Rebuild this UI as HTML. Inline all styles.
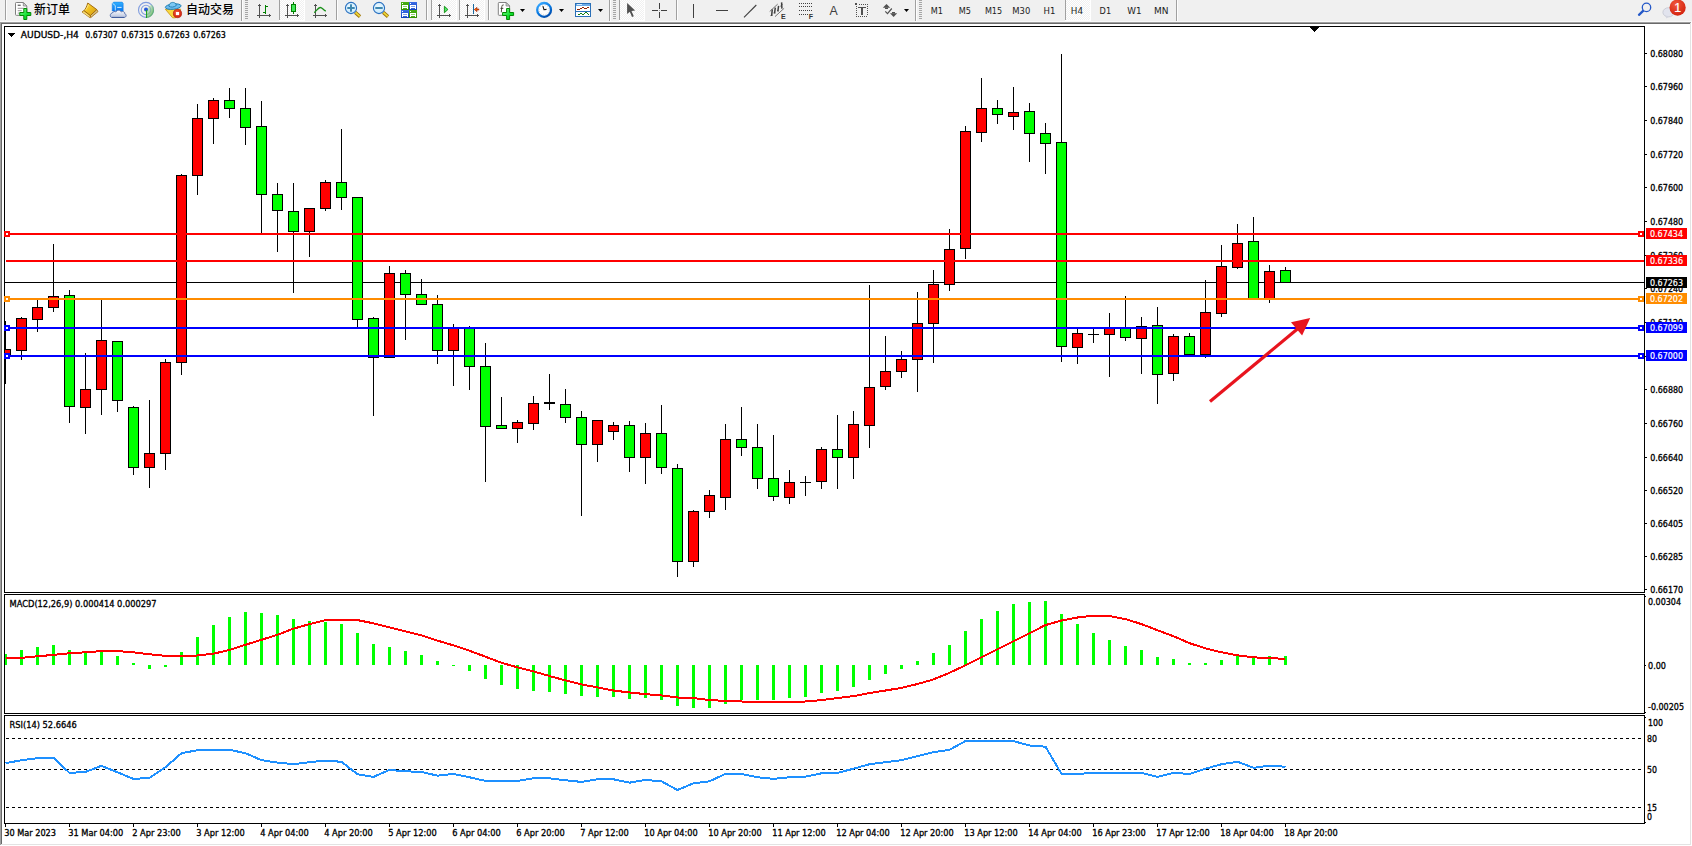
<!DOCTYPE html><html><head><meta charset="utf-8"><title>AUDUSD H4</title>
<style>html,body{margin:0;padding:0;background:#fff;overflow:hidden}body{width:1692px;height:846px;position:relative}svg{position:absolute;left:0;top:0;display:block}text{font-family:"DejaVu Sans Condensed", "Liberation Sans", sans-serif;font-size:9.33px;fill:#000;stroke:#000;stroke-width:0.3px}.cjk{font-family:"Liberation Sans", "Noto Sans CJK SC", sans-serif;font-size:12px;font-weight:500;stroke:none}.tf{font-size:9.33px;fill:#1c1c1c;stroke:none}</style></head><body>
<svg width="1692" height="846" viewBox="0 0 1692 846">
<defs><linearGradient id="tb" x1="0" y1="0" x2="0" y2="1"><stop offset="0" stop-color="#e3e3e3"/><stop offset="0.5" stop-color="#a0a0a0"/><stop offset="1" stop-color="#6a6a6a"/></linearGradient>
<pattern id="hatch" width="2" height="2" patternUnits="userSpaceOnUse"><rect width="2" height="2" fill="#f0f0f0"/><rect width="1" height="1" fill="#fff"/><rect x="1" y="1" width="1" height="1" fill="#fff"/></pattern>
</defs>
<rect width="1692" height="846" fill="#fff"/>
<g id="toolbar">
<rect x="0" y="0" width="1692" height="22" fill="#f0f0f0"/>
<defs>
<linearGradient id="gGold" x1="0" y1="0" x2="1" y2="1"><stop offset="0" stop-color="#ffe050"/><stop offset="0.45" stop-color="#f0c020"/><stop offset="1" stop-color="#d09810"/></linearGradient>
<linearGradient id="gGreen" x1="0" y1="0" x2="1" y2="1"><stop offset="0" stop-color="#80ff90"/><stop offset="0.6" stop-color="#10e030"/><stop offset="1" stop-color="#00b818"/></linearGradient>
<linearGradient id="gBlue" x1="0" y1="0" x2="0" y2="1"><stop offset="0" stop-color="#30b0ff"/><stop offset="1" stop-color="#0878f0"/></linearGradient>
<linearGradient id="gCloud" x1="0" y1="0" x2="0" y2="1"><stop offset="0" stop-color="#ffffff"/><stop offset="1" stop-color="#b4c0dc"/></linearGradient>
<radialGradient id="gRed" cx="0.4" cy="0.3" r="0.8"><stop offset="0" stop-color="#f0583c"/><stop offset="1" stop-color="#d01c08"/></radialGradient>
<radialGradient id="gLens" cx="0.45" cy="0.4" r="0.7"><stop offset="0" stop-color="#eefaff"/><stop offset="1" stop-color="#bfe4fb"/></radialGradient>
<linearGradient id="gHandle" x1="0" y1="1" x2="1" y2="0"><stop offset="0" stop-color="#a87808"/><stop offset="0.5" stop-color="#f4e040"/><stop offset="1" stop-color="#b88810"/></linearGradient>
<linearGradient id="gClock" x1="0.2" y1="0" x2="0.8" y2="1"><stop offset="0" stop-color="#38a8ff"/><stop offset="0.5" stop-color="#0878e0"/><stop offset="1" stop-color="#0048a8"/></linearGradient>
<linearGradient id="gSig" x1="0" y1="0" x2="1" y2="1"><stop offset="0" stop-color="#d0ecd0" stop-opacity="0.3"/><stop offset="1" stop-color="#30a030" stop-opacity="0.95"/></linearGradient>
<linearGradient id="gTileG" x1="0" y1="0" x2="0" y2="1"><stop offset="0" stop-color="#48b010"/><stop offset="1" stop-color="#348c08"/></linearGradient>
<linearGradient id="gTileB" x1="0" y1="0" x2="0" y2="1"><stop offset="0" stop-color="#3a6ce8"/><stop offset="1" stop-color="#1040b8"/></linearGradient>
</defs>
<rect x="5" y="0" width="1" height="20" fill="#a0a0a0" shape-rendering="crispEdges"/><rect x="6" y="0" width="1" height="20" fill="#fdfdfd" shape-rendering="crispEdges"/>
<g transform="translate(15.3,2.0)"><path d="M1,0.5 H8 L11.5,4 V12.5 Q11.5,13.3 10.7,13.3 H1 Q0.2,13.3 0.2,12.5 V1.3 Q0.2,0.5 1,0.5z" fill="#fff" stroke="#808080" stroke-width="1"/><path d="M8,0.5 V4 H11.5z" fill="#d8d8d8" stroke="#808080" stroke-width="0.8"/><rect x="2.4" y="2.6" width="3" height="1.4" fill="#707070"/><rect x="2.4" y="5.8" width="6.6" height="1" fill="#9a9a9a"/><rect x="2.4" y="8.2" width="4" height="1" fill="#9a9a9a"/><rect x="2.4" y="10.6" width="2.4" height="1" fill="#9a9a9a"/><path d="M8.5,6.5 h3 v4 h4 v3 h-4 v4 h-3 v-4 h-4 v-3 h4z" fill="url(#gGreen)" stroke="#008a00" stroke-width="1"/></g>
<text class="cjk" x="34" y="13.8" textLength="36" lengthAdjust="spacingAndGlyphs">新订单</text>
<g stroke-linejoin="round"><path d="M96.8,9.6 L98,11.6 L90.6,17.7 L90.4,15.6z" fill="#ead9a0" stroke="#9a6208" stroke-width="0.8"/><path d="M91.2,16.6 L97.4,10.9 M91.1,17.2 L97.7,11.4" stroke="#b89040" stroke-width="0.35"/><path d="M84,10.5 L82,11.9 L89.8,17.6 L90.4,15.6z" fill="#f4d45c" stroke="#a06a08" stroke-width="0.8"/><path d="M82.9,12 L89.6,16.6" stroke="#fff0a8" stroke-width="0.6"/><path d="M87.8,3 L96.8,9.6 L90.4,15.6 L84,10.5 C85.6,9.2 86.6,6.6 87.8,3z" fill="url(#gGold)" stroke="#9a6208" stroke-width="0.9"/><path d="M85.3,10.3 C86.6,8.8 87.6,6.8 88.5,4.6" stroke="#fff4b0" stroke-width="0.7" fill="none" opacity="0.85"/></g>
<g><path d="M112.2,3.6 L113.6,2.1 H122.2 L123.2,3.6 V11 H112.2z" fill="url(#gBlue)" stroke="#1478e0" stroke-width="0.5"/><path d="M112.6,3.4 L115.3,5.6 V10.6" stroke="#e0f4ff" stroke-width="0.8" fill="none"/><rect x="117.2" y="6.9" width="4.4" height="0.9" fill="#f0faff"/><path d="M112,17.5 C109.5,17.3 109.7,13.3 112.4,12.9 C113,11.4 115,11.1 115.9,12 C116.6,9.7 120.4,9.5 121.2,11.9 C123,10.9 125.2,12 124.8,13.8 C126.8,14.4 126.5,17.3 124.2,17.5z" fill="url(#gCloud)" stroke="#4c68a8" stroke-width="0.9"/><path d="M112,17.4 H124.2" stroke="#3c5898" stroke-width="0.9"/></g>
<g fill="none"><circle cx="146" cy="9.9" r="7.5" stroke="#5a80d8" stroke-width="1.1" opacity="0.75"/><circle cx="146" cy="9.9" r="4.7" stroke="#5a80d8" stroke-width="1.1" opacity="0.7"/><path d="M146,9.9 L146,17.9 A8,8 0 0 0 151.6,4.2z" fill="url(#gSig)"/><circle cx="146" cy="9.6" r="2" fill="#2458d8"/><rect x="146" y="10" width="1.1" height="8" fill="#20a020"/></g>
<g><path d="M165.3,9.2 L180.8,9.2 L175.5,17.8 L172.6,17.8z" fill="#f8d840" stroke="#c89010" stroke-width="0.8"/><ellipse cx="173.2" cy="6.6" rx="7.9" ry="2.7" fill="#6cbcf0" stroke="#1c7cb0" stroke-width="0.9" transform="rotate(-6 173.2 6.6)"/><path d="M168.9,6.2 C168.9,1.4 176.1,1.2 176.3,5.4 C174,7.4 171,7.6 168.9,6.2z" fill="#7cc8f4" stroke="#1c7cb0" stroke-width="0.9"/><circle cx="177.5" cy="13.6" r="4.1" fill="url(#gRed)" stroke="#b01808" stroke-width="0.7"/><rect x="175.9" y="12" width="3.2" height="3.1" fill="#fff"/></g>
<text class="cjk" x="186" y="13.8" textLength="48" lengthAdjust="spacingAndGlyphs">自动交易</text>
<rect x="241" y="0" width="1" height="22" fill="#a0a0a0" shape-rendering="crispEdges"/><rect x="242" y="0" width="1" height="22" fill="#fdfdfd" shape-rendering="crispEdges"/>
<rect x="245" y="0" width="3" height="1" fill="#a6a6a6" shape-rendering="crispEdges"/>
<rect x="245" y="2" width="3" height="1" fill="#a6a6a6" shape-rendering="crispEdges"/>
<rect x="245" y="4" width="3" height="1" fill="#a6a6a6" shape-rendering="crispEdges"/>
<rect x="245" y="6" width="3" height="1" fill="#a6a6a6" shape-rendering="crispEdges"/>
<rect x="245" y="8" width="3" height="1" fill="#a6a6a6" shape-rendering="crispEdges"/>
<rect x="245" y="10" width="3" height="1" fill="#a6a6a6" shape-rendering="crispEdges"/>
<rect x="245" y="12" width="3" height="1" fill="#a6a6a6" shape-rendering="crispEdges"/>
<rect x="245" y="14" width="3" height="1" fill="#a6a6a6" shape-rendering="crispEdges"/>
<rect x="245" y="16" width="3" height="1" fill="#a6a6a6" shape-rendering="crispEdges"/>
<rect x="245" y="18" width="3" height="1" fill="#a6a6a6" shape-rendering="crispEdges"/>
<g fill="#505050" shape-rendering="crispEdges"><rect x="259" y="4" width="1" height="14"/><rect x="257" y="15" width="14" height="1"/><rect x="258" y="5" width="3" height="1"/><rect x="269" y="14" width="1" height="3"/></g>
<g fill="#008000" shape-rendering="crispEdges"><rect x="265" y="5" width="1" height="9"/><rect x="266" y="6" width="2" height="1"/><rect x="263" y="12" width="2" height="1"/></g>
<rect x="280" y="0" width="24" height="20" fill="url(#hatch)" shape-rendering="crispEdges"/>
<rect x="279" y="0" width="1" height="20" fill="#a0a0a0" shape-rendering="crispEdges"/>
<rect x="304" y="0" width="1" height="21" fill="#fff" shape-rendering="crispEdges"/>
<rect x="279" y="20" width="25" height="1" fill="#fff" shape-rendering="crispEdges"/>
<g fill="#505050" shape-rendering="crispEdges"><rect x="287" y="4" width="1" height="14"/><rect x="285" y="15" width="14" height="1"/><rect x="286" y="5" width="3" height="1"/><rect x="297" y="14" width="1" height="3"/></g>
<g shape-rendering="crispEdges"><rect x="293" y="2" width="1" height="12" fill="#008000"/><rect x="291" y="4" width="5" height="8" fill="#008000"/><rect x="292" y="5" width="3" height="6" fill="#40e858"/></g>
<g fill="#505050" shape-rendering="crispEdges"><rect x="315" y="4" width="1" height="14"/><rect x="313" y="15" width="14" height="1"/><rect x="314" y="5" width="3" height="1"/><rect x="325" y="14" width="1" height="3"/></g>
<path d="M314.2,12.6 C316.4,11.2 318,7.6 320.2,7.5 C322.2,7.4 323.4,10.4 325.8,11" fill="none" stroke="#189018" stroke-width="1.3"/>
<rect x="336" y="0" width="1" height="20" fill="#a0a0a0" shape-rendering="crispEdges"/><rect x="337" y="0" width="1" height="20" fill="#fdfdfd" shape-rendering="crispEdges"/>
<g><line x1="355.2" y1="12.4" x2="360.0" y2="16.6" stroke="#9a7008" stroke-width="3.4"/><line x1="355.4" y1="12.4" x2="359.8" y2="16.4" stroke="#f0d838" stroke-width="1.8"/><circle cx="351.0" cy="8" r="5.6" fill="url(#gLens)" stroke="#2a70c0" stroke-width="1.1"/><rect x="347.3" y="7" width="7.4" height="2" fill="#4088b0"/><rect x="350.0" y="4.3" width="2" height="7.4" fill="#4088b0"/></g>
<g><line x1="383.2" y1="12.4" x2="388.0" y2="16.6" stroke="#9a7008" stroke-width="3.4"/><line x1="383.4" y1="12.4" x2="387.8" y2="16.4" stroke="#f0d838" stroke-width="1.8"/><circle cx="379.0" cy="8" r="5.6" fill="url(#gLens)" stroke="#2a70c0" stroke-width="1.1"/><rect x="375.3" y="7" width="7.4" height="2" fill="#4088b0"/></g>
<g shape-rendering="crispEdges"><rect x="401" y="2" width="8" height="8" rx="1" fill="url(#gTileG)"/><rect x="402" y="3" width="1" height="1" fill="#fff"/><rect x="402" y="5" width="6" height="4" fill="#fff"/><rect x="403" y="6" width="4" height="1" fill="#48b010" opacity="0.6"/><rect x="403" y="8" width="4" height="1" fill="#48b010"/><rect x="409" y="2" width="8" height="8" rx="1" fill="url(#gTileB)"/><rect x="410" y="3" width="1" height="1" fill="#fff"/><rect x="410" y="5" width="6" height="4" fill="#fff"/><rect x="411" y="6" width="4" height="1" fill="#3060d8" opacity="0.6"/><rect x="411" y="8" width="4" height="1" fill="#3060d8"/><rect x="401" y="10" width="8" height="8" rx="1" fill="url(#gTileB)"/><rect x="402" y="11" width="1" height="1" fill="#fff"/><rect x="402" y="13" width="6" height="4" fill="#fff"/><rect x="403" y="14" width="4" height="1" fill="#3060d8" opacity="0.6"/><rect x="403" y="16" width="4" height="1" fill="#3060d8"/><rect x="409" y="10" width="8" height="8" rx="1" fill="url(#gTileG)"/><rect x="410" y="11" width="1" height="1" fill="#fff"/><rect x="410" y="13" width="6" height="4" fill="#fff"/><rect x="411" y="14" width="4" height="1" fill="#48b010" opacity="0.6"/><rect x="411" y="16" width="4" height="1" fill="#48b010"/></g>
<rect x="426" y="0" width="1" height="20" fill="#a0a0a0" shape-rendering="crispEdges"/><rect x="427" y="0" width="1" height="20" fill="#fdfdfd" shape-rendering="crispEdges"/>
<rect x="432" y="0" width="24" height="20" fill="url(#hatch)" shape-rendering="crispEdges"/>
<rect x="431" y="0" width="1" height="20" fill="#a0a0a0" shape-rendering="crispEdges"/>
<rect x="456" y="0" width="1" height="21" fill="#fff" shape-rendering="crispEdges"/>
<rect x="431" y="20" width="25" height="1" fill="#fff" shape-rendering="crispEdges"/>
<g fill="#505050" shape-rendering="crispEdges"><rect x="439" y="4" width="1" height="14"/><rect x="437" y="15" width="14" height="1"/><rect x="438" y="5" width="3" height="1"/><rect x="449" y="14" width="1" height="3"/></g>
<polygon points="444.4,6.3 444.4,12.7 447.9,9.5" fill="#50e868" stroke="#0c8c0c" stroke-width="0.9" stroke-linejoin="round"/>
<rect x="460" y="0" width="24" height="20" fill="url(#hatch)" shape-rendering="crispEdges"/>
<rect x="459" y="0" width="1" height="20" fill="#a0a0a0" shape-rendering="crispEdges"/>
<rect x="484" y="0" width="1" height="21" fill="#fff" shape-rendering="crispEdges"/>
<rect x="459" y="20" width="25" height="1" fill="#fff" shape-rendering="crispEdges"/>
<g fill="#505050" shape-rendering="crispEdges"><rect x="467" y="4" width="1" height="14"/><rect x="465" y="15" width="14" height="1"/><rect x="466" y="5" width="3" height="1"/><rect x="477" y="14" width="1" height="3"/></g>
<rect x="473" y="4" width="1" height="10" fill="#1868a0" shape-rendering="crispEdges"/><path d="M474.3,9.5 L477,7.4 L476.6,9 H478.8 V10 H476.6 L477,11.6z" fill="#ff6a00" stroke="#a02000" stroke-width="0.7" stroke-linejoin="round"/>
<rect x="488" y="0" width="1" height="20" fill="#a0a0a0" shape-rendering="crispEdges"/><rect x="489" y="0" width="1" height="20" fill="#fdfdfd" shape-rendering="crispEdges"/>
<g transform="translate(498.1,2.0)"><path d="M1,0.5 H8 L11.5,4 V12.5 Q11.5,13.3 10.7,13.3 H1 Q0.2,13.3 0.2,12.5 V1.3 Q0.2,0.5 1,0.5z" fill="#fff" stroke="#808080" stroke-width="1"/><path d="M8,0.5 V4 H11.5z" fill="#d8d8d8" stroke="#808080" stroke-width="0.8"/><path d="M5.6,2.9 Q3.8,2.6 3.7,4.6 L3.2,10.3 M2.4,6.4 H5.2" stroke="#3a3a2a" stroke-width="0.9" fill="none"/><path d="M8.5,6.5 h3 v4 h4 v3 h-4 v4 h-3 v-4 h-4 v-3 h4z" fill="url(#gGreen)" stroke="#008a00" stroke-width="1"/></g>
<polygon points="520,9 525,9 522.5,12" fill="#000"/>
<g><circle cx="544.1" cy="9.9" r="6.9" fill="#fdfdfd" stroke="url(#gClock)" stroke-width="2.3"/><circle cx="544.1" cy="9.9" r="4.9" fill="none" stroke="#b0b0b0" stroke-width="0.8" stroke-dasharray="0.7 1.87"/><path d="M542.9,6.2 L544,9.7 L546.5,9.4" stroke="#111" stroke-width="1.1" fill="none"/></g>
<polygon points="559,9 564,9 561.5,12" fill="#000"/>
<g shape-rendering="crispEdges"><rect x="575" y="3" width="16" height="14" fill="#2a70b8"/><rect x="576" y="4" width="14" height="2" fill="#6cace8"/><rect x="577" y="4" width="5" height="1" fill="#d8ecff"/><rect x="576" y="6" width="14" height="5" fill="#fff"/><rect x="576" y="12" width="14" height="4" fill="#fff"/>
<rect x="577" y="9" width="3" height="1" fill="#902000"/>
<rect x="580" y="8" width="2" height="1" fill="#902000"/>
<rect x="582" y="7" width="2" height="1" fill="#902000"/>
<rect x="584" y="8" width="3" height="1" fill="#902000"/>
<rect x="587" y="7" width="2" height="1" fill="#902000"/>
<rect x="578" y="14" width="2" height="1" fill="#108010"/>
<rect x="580" y="13" width="2" height="1" fill="#108010"/>
<rect x="582" y="14" width="2" height="1" fill="#108010"/>
<rect x="584" y="13" width="1" height="1" fill="#108010"/>
<rect x="585" y="12" width="2" height="1" fill="#108010"/>
<rect x="587" y="13" width="1" height="1" fill="#108010"/>
<rect x="588" y="14" width="1" height="1" fill="#108010"/>
</g>
<polygon points="598,9 603,9 600.5,12" fill="#000"/>
<rect x="609" y="0" width="1" height="22" fill="#a0a0a0" shape-rendering="crispEdges"/><rect x="610" y="0" width="1" height="22" fill="#fdfdfd" shape-rendering="crispEdges"/>
<rect x="613" y="0" width="3" height="1" fill="#a6a6a6" shape-rendering="crispEdges"/>
<rect x="613" y="2" width="3" height="1" fill="#a6a6a6" shape-rendering="crispEdges"/>
<rect x="613" y="4" width="3" height="1" fill="#a6a6a6" shape-rendering="crispEdges"/>
<rect x="613" y="6" width="3" height="1" fill="#a6a6a6" shape-rendering="crispEdges"/>
<rect x="613" y="8" width="3" height="1" fill="#a6a6a6" shape-rendering="crispEdges"/>
<rect x="613" y="10" width="3" height="1" fill="#a6a6a6" shape-rendering="crispEdges"/>
<rect x="613" y="12" width="3" height="1" fill="#a6a6a6" shape-rendering="crispEdges"/>
<rect x="613" y="14" width="3" height="1" fill="#a6a6a6" shape-rendering="crispEdges"/>
<rect x="613" y="16" width="3" height="1" fill="#a6a6a6" shape-rendering="crispEdges"/>
<rect x="613" y="18" width="3" height="1" fill="#a6a6a6" shape-rendering="crispEdges"/>
<rect x="620" y="0" width="24" height="20" fill="url(#hatch)" shape-rendering="crispEdges"/>
<rect x="619" y="0" width="1" height="20" fill="#a0a0a0" shape-rendering="crispEdges"/>
<rect x="644" y="0" width="1" height="21" fill="#fff" shape-rendering="crispEdges"/>
<rect x="619" y="20" width="25" height="1" fill="#fff" shape-rendering="crispEdges"/>
<polygon points="627.1,2.9 627.1,14 629.8,11.8 632,16.9 633.8,16.2 631.5,11 635.1,10.5" fill="#505050"/>
<g fill="#404040" shape-rendering="crispEdges"><rect x="659" y="3" width="1" height="6"/><rect x="659" y="12" width="1" height="6"/><rect x="652" y="10" width="6" height="1"/><rect x="661" y="10" width="6" height="1"/><rect x="659" y="10" width="1" height="1" opacity="0.4"/></g>
<rect x="676" y="0" width="1" height="20" fill="#a0a0a0" shape-rendering="crispEdges"/><rect x="677" y="0" width="1" height="20" fill="#fdfdfd" shape-rendering="crispEdges"/>
<g fill="#404040" shape-rendering="crispEdges"><rect x="693" y="4" width="1" height="14"/><rect x="716" y="10" width="12" height="1"/></g>
<line x1="744" y1="17.3" x2="756.3" y2="5" stroke="#404040" stroke-width="1.1"/>
<g stroke="#404040" fill="none"><path d="M769.7,11.5 L777.7,4.1 M775,16.6 L784.1,8.3" stroke-width="0.7"/><path d="M772.3,9.4 L771.6,15.8 M775.3,7.6 L774.6,13 M778.6,5.8 L777.9,11 M781.6,2.4 L781.9,8.6" stroke-width="1.5"/><path d="M770.6,15.6 l1.8,-0.4 M773.6,13 l1.8,0.2 M777,10.8 l1.8,0.3 M780.4,6.2 l2,-1.6" stroke-width="1"/></g>
<text x="781" y="19" style="font-family:'Liberation Sans',sans-serif;font-size:7px;font-weight:bold;fill:#333;stroke:none">E</text>
<g fill="#404040" shape-rendering="crispEdges">
<rect x="799" y="3" width="1" height="1"/>
<rect x="801" y="3" width="1" height="1"/>
<rect x="803" y="3" width="1" height="1"/>
<rect x="805" y="3" width="1" height="1"/>
<rect x="807" y="3" width="1" height="1"/>
<rect x="809" y="3" width="1" height="1"/>
<rect x="811" y="3" width="1" height="1"/>
<rect x="799" y="6" width="1" height="1"/>
<rect x="801" y="6" width="1" height="1"/>
<rect x="803" y="6" width="1" height="1"/>
<rect x="805" y="6" width="1" height="1"/>
<rect x="807" y="6" width="1" height="1"/>
<rect x="809" y="6" width="1" height="1"/>
<rect x="811" y="6" width="1" height="1"/>
<rect x="799" y="10" width="1" height="1"/>
<rect x="801" y="10" width="1" height="1"/>
<rect x="803" y="10" width="1" height="1"/>
<rect x="805" y="10" width="1" height="1"/>
<rect x="807" y="10" width="1" height="1"/>
<rect x="809" y="10" width="1" height="1"/>
<rect x="811" y="10" width="1" height="1"/>
<rect x="799" y="14" width="1" height="1"/>
<rect x="801" y="14" width="1" height="1"/>
<rect x="803" y="14" width="1" height="1"/>
<rect x="805" y="14" width="1" height="1"/>
<rect x="807" y="14" width="1" height="1"/>
</g>
<text x="808.8" y="19" style="font-family:'Liberation Sans',sans-serif;font-size:7px;font-weight:bold;fill:#333;stroke:none">F</text>
<text x="829.4" y="15" style="font-family:'Liberation Sans',sans-serif;font-size:12.6px;fill:#404040;stroke:none" textLength="8.2" lengthAdjust="spacingAndGlyphs">A</text>
<g fill="#505050" shape-rendering="crispEdges"><rect x="855" y="3" width="2" height="2"/>
<rect x="859" y="4" width="1" height="1"/>
<rect x="861" y="4" width="1" height="1"/>
<rect x="863" y="4" width="1" height="1"/>
<rect x="865" y="4" width="1" height="1"/>
<rect x="867" y="4" width="1" height="1"/>
<rect x="856" y="6" width="1" height="1"/>
<rect x="856" y="8" width="1" height="1"/>
<rect x="856" y="10" width="1" height="1"/>
<rect x="856" y="12" width="1" height="1"/>
<rect x="856" y="14" width="1" height="1"/>
<rect x="856" y="16" width="1" height="1"/>
<rect x="867" y="6" width="1" height="1"/>
<rect x="867" y="8" width="1" height="1"/>
<rect x="867" y="10" width="1" height="1"/>
<rect x="867" y="12" width="1" height="1"/>
<rect x="867" y="14" width="1" height="1"/>
<rect x="858" y="16" width="1" height="1"/>
<rect x="860" y="16" width="1" height="1"/>
<rect x="862" y="16" width="1" height="1"/>
<rect x="864" y="16" width="1" height="1"/>
<rect x="866" y="16" width="1" height="1"/>
<rect x="858" y="7" width="8" height="1"/><rect x="861" y="7" width="2" height="8"/></g>
<g fill="#505050"><polygon points="886.5,4 890.2,7.8 882.8,7.8"/><rect x="885" y="7.6" width="3" height="1.4"/><polygon points="893.6,16.9 897.2,13.2 890,13.2"/><rect x="892" y="12" width="3" height="1.4"/><path d="M885.3,11.3 L887.5,13.6 L891.8,8.5" stroke="#505050" stroke-width="1.2" fill="none"/></g>
<polygon points="904,9 909,9 906.5,12" fill="#000"/>
<rect x="915" y="0" width="1" height="22" fill="#a0a0a0" shape-rendering="crispEdges"/><rect x="916" y="0" width="1" height="22" fill="#fdfdfd" shape-rendering="crispEdges"/>
<rect x="919" y="0" width="3" height="1" fill="#a6a6a6" shape-rendering="crispEdges"/>
<rect x="919" y="2" width="3" height="1" fill="#a6a6a6" shape-rendering="crispEdges"/>
<rect x="919" y="4" width="3" height="1" fill="#a6a6a6" shape-rendering="crispEdges"/>
<rect x="919" y="6" width="3" height="1" fill="#a6a6a6" shape-rendering="crispEdges"/>
<rect x="919" y="8" width="3" height="1" fill="#a6a6a6" shape-rendering="crispEdges"/>
<rect x="919" y="10" width="3" height="1" fill="#a6a6a6" shape-rendering="crispEdges"/>
<rect x="919" y="12" width="3" height="1" fill="#a6a6a6" shape-rendering="crispEdges"/>
<rect x="919" y="14" width="3" height="1" fill="#a6a6a6" shape-rendering="crispEdges"/>
<rect x="919" y="16" width="3" height="1" fill="#a6a6a6" shape-rendering="crispEdges"/>
<rect x="919" y="18" width="3" height="1" fill="#a6a6a6" shape-rendering="crispEdges"/>
<text class="tf" x="930.8" y="14" textLength="12.2" lengthAdjust="spacingAndGlyphs">M1</text>
<text class="tf" x="958.8" y="14" textLength="12.2" lengthAdjust="spacingAndGlyphs">M5</text>
<text class="tf" x="984.9" y="14" textLength="17.2" lengthAdjust="spacingAndGlyphs">M15</text>
<text class="tf" x="1012.3" y="14" textLength="18.0" lengthAdjust="spacingAndGlyphs">M30</text>
<text class="tf" x="1043.5" y="14" textLength="11.8" lengthAdjust="spacingAndGlyphs">H1</text>
<rect x="1066" y="0" width="24" height="20" fill="url(#hatch)" shape-rendering="crispEdges"/>
<rect x="1065" y="0" width="1" height="20" fill="#a0a0a0" shape-rendering="crispEdges"/>
<rect x="1090" y="0" width="1" height="21" fill="#fff" shape-rendering="crispEdges"/>
<rect x="1065" y="20" width="25" height="1" fill="#fff" shape-rendering="crispEdges"/>
<text class="tf" x="1070.8" y="14" textLength="12.2" lengthAdjust="spacingAndGlyphs">H4</text>
<text class="tf" x="1099.6" y="14" textLength="11.5" lengthAdjust="spacingAndGlyphs">D1</text>
<text class="tf" x="1127.2" y="14" textLength="14.3" lengthAdjust="spacingAndGlyphs">W1</text>
<text class="tf" x="1153.9" y="14" textLength="14.5" lengthAdjust="spacingAndGlyphs">MN</text>
<rect x="1176" y="0" width="1" height="22" fill="#a0a0a0" shape-rendering="crispEdges"/><rect x="1177" y="0" width="1" height="22" fill="#fdfdfd" shape-rendering="crispEdges"/>
<g><line x1="1643.6" y1="10.4" x2="1639" y2="14.8" stroke="#2458c8" stroke-width="2.3" stroke-linecap="round"/><circle cx="1646.5" cy="7.4" r="4.2" fill="#f0f0f0" stroke="#2458c8" stroke-width="1.3"/></g>
<g><ellipse cx="1668.5" cy="12.3" rx="5.6" ry="4.6" fill="#e2e4ee" stroke="#c4c6d0" stroke-width="0.8"/><polygon points="1665.4,15.6 1666.4,18.6 1669.6,16.2" fill="#d4d6e0"/><circle cx="1677.6" cy="7.6" r="8.1" fill="url(#gRed)"/><text x="1674.2" y="12" style="font-family:'Liberation Sans',sans-serif;font-size:12.4px;fill:#fff;stroke:#fff;stroke-width:0.2px">1</text></g>
</g>
<g shape-rendering="crispEdges">
<rect x="0" y="21" width="1692" height="1" fill="#f9f9f9"/>
<rect x="0" y="22" width="1691" height="1" fill="#a0a0a0"/>
<rect x="1" y="23" width="1690" height="1" fill="#696969"/>
<rect x="0" y="22" width="1" height="823" fill="#a0a0a0"/><rect x="1" y="23" width="1" height="821" fill="#696969"/>
<rect x="1690" y="23" width="1" height="822" fill="#e3e3e3"/>
<rect x="1" y="844" width="1690" height="1" fill="#e3e3e3"/>
<rect x="1691" y="22" width="1" height="824" fill="#fff"/>
</g>
<g id="main" shape-rendering="crispEdges">
<rect x="5" y="282" width="1640" height="1" fill="#000"/>
<rect x="5" y="321" width="1" height="63" fill="#000"/>
<rect x="4" y="349" width="7" height="8" fill="#000"/>
<rect x="5" y="350" width="5" height="6" fill="#f00"/>
<rect x="21" y="317" width="1" height="43" fill="#000"/>
<rect x="16" y="318" width="11" height="33" fill="#000"/>
<rect x="17" y="319" width="9" height="31" fill="#f00"/>
<rect x="37" y="300" width="1" height="32" fill="#000"/>
<rect x="32" y="307" width="11" height="13" fill="#000"/>
<rect x="33" y="308" width="9" height="11" fill="#f00"/>
<rect x="53" y="244" width="1" height="68" fill="#000"/>
<rect x="48" y="296" width="11" height="12" fill="#000"/>
<rect x="49" y="297" width="9" height="10" fill="#f00"/>
<rect x="69" y="290" width="1" height="133" fill="#000"/>
<rect x="64" y="295" width="11" height="112" fill="#000"/>
<rect x="65" y="296" width="9" height="110" fill="#0f0"/>
<rect x="85" y="353" width="1" height="81" fill="#000"/>
<rect x="80" y="389" width="11" height="19" fill="#000"/>
<rect x="81" y="390" width="9" height="17" fill="#f00"/>
<rect x="101" y="300" width="1" height="115" fill="#000"/>
<rect x="96" y="340" width="11" height="50" fill="#000"/>
<rect x="97" y="341" width="9" height="48" fill="#f00"/>
<rect x="117" y="341" width="1" height="71" fill="#000"/>
<rect x="112" y="341" width="11" height="60" fill="#000"/>
<rect x="113" y="342" width="9" height="58" fill="#0f0"/>
<rect x="133" y="406" width="1" height="69" fill="#000"/>
<rect x="128" y="407" width="11" height="61" fill="#000"/>
<rect x="129" y="408" width="9" height="59" fill="#0f0"/>
<rect x="149" y="400" width="1" height="88" fill="#000"/>
<rect x="144" y="453" width="11" height="15" fill="#000"/>
<rect x="145" y="454" width="9" height="13" fill="#f00"/>
<rect x="165" y="359" width="1" height="111" fill="#000"/>
<rect x="160" y="362" width="11" height="92" fill="#000"/>
<rect x="161" y="363" width="9" height="90" fill="#f00"/>
<rect x="181" y="174" width="1" height="201" fill="#000"/>
<rect x="176" y="175" width="11" height="188" fill="#000"/>
<rect x="177" y="176" width="9" height="186" fill="#f00"/>
<rect x="197" y="104" width="1" height="91" fill="#000"/>
<rect x="192" y="118" width="11" height="58" fill="#000"/>
<rect x="193" y="119" width="9" height="56" fill="#f00"/>
<rect x="213" y="98" width="1" height="46" fill="#000"/>
<rect x="208" y="100" width="11" height="19" fill="#000"/>
<rect x="209" y="101" width="9" height="17" fill="#f00"/>
<rect x="229" y="88" width="1" height="30" fill="#000"/>
<rect x="224" y="100" width="11" height="9" fill="#000"/>
<rect x="225" y="101" width="9" height="7" fill="#0f0"/>
<rect x="245" y="88" width="1" height="57" fill="#000"/>
<rect x="240" y="108" width="11" height="20" fill="#000"/>
<rect x="241" y="109" width="9" height="18" fill="#0f0"/>
<rect x="261" y="101" width="1" height="132" fill="#000"/>
<rect x="256" y="126" width="11" height="69" fill="#000"/>
<rect x="257" y="127" width="9" height="67" fill="#0f0"/>
<rect x="277" y="183" width="1" height="69" fill="#000"/>
<rect x="272" y="194" width="11" height="17" fill="#000"/>
<rect x="273" y="195" width="9" height="15" fill="#0f0"/>
<rect x="293" y="183" width="1" height="110" fill="#000"/>
<rect x="288" y="211" width="11" height="21" fill="#000"/>
<rect x="289" y="212" width="9" height="19" fill="#0f0"/>
<rect x="309" y="208" width="1" height="49" fill="#000"/>
<rect x="304" y="208" width="11" height="24" fill="#000"/>
<rect x="305" y="209" width="9" height="22" fill="#f00"/>
<rect x="325" y="180" width="1" height="31" fill="#000"/>
<rect x="320" y="182" width="11" height="27" fill="#000"/>
<rect x="321" y="183" width="9" height="25" fill="#f00"/>
<rect x="341" y="129" width="1" height="81" fill="#000"/>
<rect x="336" y="182" width="11" height="16" fill="#000"/>
<rect x="337" y="183" width="9" height="14" fill="#0f0"/>
<rect x="357" y="197" width="1" height="130" fill="#000"/>
<rect x="352" y="197" width="11" height="123" fill="#000"/>
<rect x="353" y="198" width="9" height="121" fill="#0f0"/>
<rect x="373" y="317" width="1" height="99" fill="#000"/>
<rect x="368" y="318" width="11" height="40" fill="#000"/>
<rect x="369" y="319" width="9" height="38" fill="#0f0"/>
<rect x="389" y="266" width="1" height="92" fill="#000"/>
<rect x="384" y="273" width="11" height="85" fill="#000"/>
<rect x="385" y="274" width="9" height="83" fill="#f00"/>
<rect x="405" y="270" width="1" height="70" fill="#000"/>
<rect x="400" y="273" width="11" height="22" fill="#000"/>
<rect x="401" y="274" width="9" height="20" fill="#0f0"/>
<rect x="421" y="279" width="1" height="26" fill="#000"/>
<rect x="416" y="294" width="11" height="11" fill="#000"/>
<rect x="417" y="295" width="9" height="9" fill="#0f0"/>
<rect x="437" y="295" width="1" height="69" fill="#000"/>
<rect x="432" y="304" width="11" height="47" fill="#000"/>
<rect x="433" y="305" width="9" height="45" fill="#0f0"/>
<rect x="453" y="324" width="1" height="62" fill="#000"/>
<rect x="448" y="328" width="11" height="23" fill="#000"/>
<rect x="449" y="329" width="9" height="21" fill="#f00"/>
<rect x="469" y="326" width="1" height="64" fill="#000"/>
<rect x="464" y="328" width="11" height="39" fill="#000"/>
<rect x="465" y="329" width="9" height="37" fill="#0f0"/>
<rect x="485" y="343" width="1" height="139" fill="#000"/>
<rect x="480" y="366" width="11" height="61" fill="#000"/>
<rect x="481" y="367" width="9" height="59" fill="#0f0"/>
<rect x="501" y="397" width="1" height="32" fill="#000"/>
<rect x="496" y="425" width="11" height="4" fill="#000"/>
<rect x="497" y="426" width="9" height="2" fill="#0f0"/>
<rect x="517" y="420" width="1" height="23" fill="#000"/>
<rect x="512" y="422" width="11" height="7" fill="#000"/>
<rect x="513" y="423" width="9" height="5" fill="#f00"/>
<rect x="533" y="396" width="1" height="34" fill="#000"/>
<rect x="528" y="403" width="11" height="21" fill="#000"/>
<rect x="529" y="404" width="9" height="19" fill="#f00"/>
<rect x="549" y="374" width="1" height="36" fill="#000"/>
<rect x="544" y="402" width="11" height="2" fill="#000"/>
<rect x="565" y="389" width="1" height="34" fill="#000"/>
<rect x="560" y="404" width="11" height="14" fill="#000"/>
<rect x="561" y="405" width="9" height="12" fill="#0f0"/>
<rect x="581" y="411" width="1" height="105" fill="#000"/>
<rect x="576" y="417" width="11" height="28" fill="#000"/>
<rect x="577" y="418" width="9" height="26" fill="#0f0"/>
<rect x="597" y="420" width="1" height="42" fill="#000"/>
<rect x="592" y="420" width="11" height="25" fill="#000"/>
<rect x="593" y="421" width="9" height="23" fill="#f00"/>
<rect x="613" y="422" width="1" height="18" fill="#000"/>
<rect x="608" y="425" width="11" height="7" fill="#000"/>
<rect x="609" y="426" width="9" height="5" fill="#f00"/>
<rect x="629" y="421" width="1" height="51" fill="#000"/>
<rect x="624" y="425" width="11" height="33" fill="#000"/>
<rect x="625" y="426" width="9" height="31" fill="#0f0"/>
<rect x="645" y="423" width="1" height="61" fill="#000"/>
<rect x="640" y="433" width="11" height="25" fill="#000"/>
<rect x="641" y="434" width="9" height="23" fill="#f00"/>
<rect x="661" y="405" width="1" height="69" fill="#000"/>
<rect x="656" y="433" width="11" height="35" fill="#000"/>
<rect x="657" y="434" width="9" height="33" fill="#0f0"/>
<rect x="677" y="464" width="1" height="113" fill="#000"/>
<rect x="672" y="468" width="11" height="94" fill="#000"/>
<rect x="673" y="469" width="9" height="92" fill="#0f0"/>
<rect x="693" y="510" width="1" height="57" fill="#000"/>
<rect x="688" y="511" width="11" height="51" fill="#000"/>
<rect x="689" y="512" width="9" height="49" fill="#f00"/>
<rect x="709" y="490" width="1" height="28" fill="#000"/>
<rect x="704" y="495" width="11" height="17" fill="#000"/>
<rect x="705" y="496" width="9" height="15" fill="#f00"/>
<rect x="725" y="424" width="1" height="86" fill="#000"/>
<rect x="720" y="439" width="11" height="59" fill="#000"/>
<rect x="721" y="440" width="9" height="57" fill="#f00"/>
<rect x="741" y="407" width="1" height="49" fill="#000"/>
<rect x="736" y="439" width="11" height="9" fill="#000"/>
<rect x="737" y="440" width="9" height="7" fill="#0f0"/>
<rect x="757" y="424" width="1" height="65" fill="#000"/>
<rect x="752" y="447" width="11" height="32" fill="#000"/>
<rect x="753" y="448" width="9" height="30" fill="#0f0"/>
<rect x="773" y="435" width="1" height="66" fill="#000"/>
<rect x="768" y="478" width="11" height="19" fill="#000"/>
<rect x="769" y="479" width="9" height="17" fill="#0f0"/>
<rect x="789" y="470" width="1" height="34" fill="#000"/>
<rect x="784" y="482" width="11" height="16" fill="#000"/>
<rect x="785" y="483" width="9" height="14" fill="#f00"/>
<rect x="805" y="476" width="1" height="20" fill="#000"/>
<rect x="800" y="482" width="11" height="1" fill="#000"/>
<rect x="821" y="447" width="1" height="42" fill="#000"/>
<rect x="816" y="449" width="11" height="33" fill="#000"/>
<rect x="817" y="450" width="9" height="31" fill="#f00"/>
<rect x="837" y="415" width="1" height="74" fill="#000"/>
<rect x="832" y="449" width="11" height="9" fill="#000"/>
<rect x="833" y="450" width="9" height="7" fill="#0f0"/>
<rect x="853" y="411" width="1" height="68" fill="#000"/>
<rect x="848" y="424" width="11" height="34" fill="#000"/>
<rect x="849" y="425" width="9" height="32" fill="#f00"/>
<rect x="869" y="285" width="1" height="163" fill="#000"/>
<rect x="864" y="387" width="11" height="39" fill="#000"/>
<rect x="865" y="388" width="9" height="37" fill="#f00"/>
<rect x="885" y="336" width="1" height="54" fill="#000"/>
<rect x="880" y="371" width="11" height="16" fill="#000"/>
<rect x="881" y="372" width="9" height="14" fill="#f00"/>
<rect x="901" y="351" width="1" height="27" fill="#000"/>
<rect x="896" y="359" width="11" height="13" fill="#000"/>
<rect x="897" y="360" width="9" height="11" fill="#f00"/>
<rect x="917" y="292" width="1" height="100" fill="#000"/>
<rect x="912" y="323" width="11" height="37" fill="#000"/>
<rect x="913" y="324" width="9" height="35" fill="#f00"/>
<rect x="933" y="270" width="1" height="93" fill="#000"/>
<rect x="928" y="284" width="11" height="40" fill="#000"/>
<rect x="929" y="285" width="9" height="38" fill="#f00"/>
<rect x="949" y="229" width="1" height="62" fill="#000"/>
<rect x="944" y="249" width="11" height="36" fill="#000"/>
<rect x="945" y="250" width="9" height="34" fill="#f00"/>
<rect x="965" y="126" width="1" height="133" fill="#000"/>
<rect x="960" y="131" width="11" height="118" fill="#000"/>
<rect x="961" y="132" width="9" height="116" fill="#f00"/>
<rect x="981" y="78" width="1" height="64" fill="#000"/>
<rect x="976" y="108" width="11" height="25" fill="#000"/>
<rect x="977" y="109" width="9" height="23" fill="#f00"/>
<rect x="997" y="100" width="1" height="24" fill="#000"/>
<rect x="992" y="108" width="11" height="7" fill="#000"/>
<rect x="993" y="109" width="9" height="5" fill="#0f0"/>
<rect x="1013" y="87" width="1" height="43" fill="#000"/>
<rect x="1008" y="112" width="11" height="5" fill="#000"/>
<rect x="1009" y="113" width="9" height="3" fill="#f00"/>
<rect x="1029" y="103" width="1" height="59" fill="#000"/>
<rect x="1024" y="111" width="11" height="23" fill="#000"/>
<rect x="1025" y="112" width="9" height="21" fill="#0f0"/>
<rect x="1045" y="123" width="1" height="51" fill="#000"/>
<rect x="1040" y="133" width="11" height="11" fill="#000"/>
<rect x="1041" y="134" width="9" height="9" fill="#0f0"/>
<rect x="1061" y="54" width="1" height="308" fill="#000"/>
<rect x="1056" y="142" width="11" height="205" fill="#000"/>
<rect x="1057" y="143" width="9" height="203" fill="#0f0"/>
<rect x="1077" y="329" width="1" height="35" fill="#000"/>
<rect x="1072" y="333" width="11" height="15" fill="#000"/>
<rect x="1073" y="334" width="9" height="13" fill="#f00"/>
<rect x="1093" y="329" width="1" height="14" fill="#000"/>
<rect x="1088" y="334" width="11" height="1" fill="#000"/>
<rect x="1109" y="313" width="1" height="64" fill="#000"/>
<rect x="1104" y="327" width="11" height="8" fill="#000"/>
<rect x="1105" y="328" width="9" height="6" fill="#f00"/>
<rect x="1125" y="296" width="1" height="45" fill="#000"/>
<rect x="1120" y="327" width="11" height="11" fill="#000"/>
<rect x="1121" y="328" width="9" height="9" fill="#0f0"/>
<rect x="1141" y="317" width="1" height="57" fill="#000"/>
<rect x="1136" y="326" width="11" height="13" fill="#000"/>
<rect x="1137" y="327" width="9" height="11" fill="#f00"/>
<rect x="1157" y="307" width="1" height="97" fill="#000"/>
<rect x="1152" y="325" width="11" height="50" fill="#000"/>
<rect x="1153" y="326" width="9" height="48" fill="#0f0"/>
<rect x="1173" y="334" width="1" height="47" fill="#000"/>
<rect x="1168" y="336" width="11" height="38" fill="#000"/>
<rect x="1169" y="337" width="9" height="36" fill="#f00"/>
<rect x="1189" y="333" width="1" height="22" fill="#000"/>
<rect x="1184" y="336" width="11" height="19" fill="#000"/>
<rect x="1185" y="337" width="9" height="17" fill="#0f0"/>
<rect x="1205" y="280" width="1" height="78" fill="#000"/>
<rect x="1200" y="312" width="11" height="43" fill="#000"/>
<rect x="1201" y="313" width="9" height="41" fill="#f00"/>
<rect x="1221" y="245" width="1" height="72" fill="#000"/>
<rect x="1216" y="266" width="11" height="48" fill="#000"/>
<rect x="1217" y="267" width="9" height="46" fill="#f00"/>
<rect x="1237" y="224" width="1" height="45" fill="#000"/>
<rect x="1232" y="243" width="11" height="25" fill="#000"/>
<rect x="1233" y="244" width="9" height="23" fill="#f00"/>
<rect x="1253" y="217" width="1" height="82" fill="#000"/>
<rect x="1248" y="241" width="11" height="58" fill="#000"/>
<rect x="1249" y="242" width="9" height="56" fill="#0f0"/>
<rect x="1269" y="265" width="1" height="38" fill="#000"/>
<rect x="1264" y="271" width="11" height="28" fill="#000"/>
<rect x="1265" y="272" width="9" height="26" fill="#f00"/>
<rect x="1285" y="267" width="1" height="16" fill="#000"/>
<rect x="1280" y="270" width="11" height="13" fill="#000"/>
<rect x="1281" y="271" width="9" height="11" fill="#0f0"/>
<rect x="5" y="233" width="1640" height="2" fill="#f00"/>
<rect x="6" y="260" width="1639" height="2" fill="#f00"/>
<rect x="5" y="298" width="1640" height="2" fill="#ff8c00"/>
<rect x="5" y="327" width="1640" height="2" fill="#00f"/>
<rect x="5" y="355" width="1640" height="2" fill="#00f"/>
</g>
<g id="arrow"><line x1="1210" y1="401.5" x2="1298" y2="328.5" stroke="#e8141e" stroke-width="3.2"/><polygon points="1310.2,318 1291,322.3 1302.1,335.6" fill="#e8141e"/></g>
<g id="macd" shape-rendering="crispEdges">
<rect x="5" y="654" width="2" height="11" fill="#0f0"/>
<rect x="20" y="650" width="3" height="15" fill="#0f0"/>
<rect x="36" y="647" width="3" height="18" fill="#0f0"/>
<rect x="52" y="645" width="3" height="20" fill="#0f0"/>
<rect x="68" y="650" width="3" height="15" fill="#0f0"/>
<rect x="84" y="652" width="3" height="13" fill="#0f0"/>
<rect x="100" y="652" width="3" height="13" fill="#0f0"/>
<rect x="116" y="656" width="3" height="9" fill="#0f0"/>
<rect x="132" y="663" width="3" height="2" fill="#0f0"/>
<rect x="148" y="665" width="3" height="4" fill="#0f0"/>
<rect x="164" y="665" width="3" height="2" fill="#0f0"/>
<rect x="180" y="652" width="3" height="13" fill="#0f0"/>
<rect x="196" y="637" width="3" height="28" fill="#0f0"/>
<rect x="212" y="625" width="3" height="40" fill="#0f0"/>
<rect x="228" y="617" width="3" height="48" fill="#0f0"/>
<rect x="244" y="612" width="3" height="53" fill="#0f0"/>
<rect x="260" y="613" width="3" height="52" fill="#0f0"/>
<rect x="276" y="615" width="3" height="50" fill="#0f0"/>
<rect x="292" y="619" width="3" height="46" fill="#0f0"/>
<rect x="308" y="621" width="3" height="44" fill="#0f0"/>
<rect x="324" y="622" width="3" height="43" fill="#0f0"/>
<rect x="340" y="624" width="3" height="41" fill="#0f0"/>
<rect x="356" y="633" width="3" height="32" fill="#0f0"/>
<rect x="372" y="644" width="3" height="21" fill="#0f0"/>
<rect x="388" y="647" width="3" height="18" fill="#0f0"/>
<rect x="404" y="651" width="3" height="14" fill="#0f0"/>
<rect x="420" y="655" width="3" height="10" fill="#0f0"/>
<rect x="436" y="661" width="3" height="4" fill="#0f0"/>
<rect x="452" y="665" width="3" height="1" fill="#0f0"/>
<rect x="468" y="665" width="3" height="6" fill="#0f0"/>
<rect x="484" y="665" width="3" height="14" fill="#0f0"/>
<rect x="500" y="665" width="3" height="20" fill="#0f0"/>
<rect x="516" y="665" width="3" height="24" fill="#0f0"/>
<rect x="532" y="665" width="3" height="26" fill="#0f0"/>
<rect x="548" y="665" width="3" height="27" fill="#0f0"/>
<rect x="564" y="665" width="3" height="29" fill="#0f0"/>
<rect x="580" y="665" width="3" height="31" fill="#0f0"/>
<rect x="596" y="665" width="3" height="32" fill="#0f0"/>
<rect x="612" y="665" width="3" height="32" fill="#0f0"/>
<rect x="628" y="665" width="3" height="34" fill="#0f0"/>
<rect x="644" y="665" width="3" height="33" fill="#0f0"/>
<rect x="660" y="665" width="3" height="35" fill="#0f0"/>
<rect x="676" y="665" width="3" height="41" fill="#0f0"/>
<rect x="692" y="665" width="3" height="43" fill="#0f0"/>
<rect x="708" y="665" width="3" height="43" fill="#0f0"/>
<rect x="724" y="665" width="3" height="39" fill="#0f0"/>
<rect x="740" y="665" width="3" height="35" fill="#0f0"/>
<rect x="756" y="665" width="3" height="35" fill="#0f0"/>
<rect x="772" y="665" width="3" height="35" fill="#0f0"/>
<rect x="788" y="665" width="3" height="33" fill="#0f0"/>
<rect x="804" y="665" width="3" height="32" fill="#0f0"/>
<rect x="820" y="665" width="3" height="28" fill="#0f0"/>
<rect x="836" y="665" width="3" height="26" fill="#0f0"/>
<rect x="852" y="665" width="3" height="22" fill="#0f0"/>
<rect x="868" y="665" width="3" height="15" fill="#0f0"/>
<rect x="884" y="665" width="3" height="9" fill="#0f0"/>
<rect x="900" y="665" width="3" height="4" fill="#0f0"/>
<rect x="916" y="661" width="3" height="4" fill="#0f0"/>
<rect x="932" y="653" width="3" height="12" fill="#0f0"/>
<rect x="948" y="645" width="3" height="20" fill="#0f0"/>
<rect x="964" y="631" width="3" height="34" fill="#0f0"/>
<rect x="980" y="619" width="3" height="46" fill="#0f0"/>
<rect x="996" y="611" width="3" height="54" fill="#0f0"/>
<rect x="1012" y="604" width="3" height="61" fill="#0f0"/>
<rect x="1028" y="602" width="3" height="63" fill="#0f0"/>
<rect x="1044" y="601" width="3" height="64" fill="#0f0"/>
<rect x="1060" y="614" width="3" height="51" fill="#0f0"/>
<rect x="1076" y="624" width="3" height="41" fill="#0f0"/>
<rect x="1092" y="633" width="3" height="32" fill="#0f0"/>
<rect x="1108" y="640" width="3" height="25" fill="#0f0"/>
<rect x="1124" y="646" width="3" height="19" fill="#0f0"/>
<rect x="1140" y="650" width="3" height="15" fill="#0f0"/>
<rect x="1156" y="657" width="3" height="8" fill="#0f0"/>
<rect x="1172" y="659" width="3" height="6" fill="#0f0"/>
<rect x="1188" y="663" width="3" height="2" fill="#0f0"/>
<rect x="1204" y="663" width="3" height="2" fill="#0f0"/>
<rect x="1220" y="660" width="3" height="5" fill="#0f0"/>
<rect x="1236" y="656" width="3" height="9" fill="#0f0"/>
<rect x="1252" y="657" width="3" height="8" fill="#0f0"/>
<rect x="1268" y="656" width="3" height="9" fill="#0f0"/>
<rect x="1284" y="656" width="3" height="9" fill="#0f0"/>
<polyline points="5.5,657.9 21.5,657.9 37.5,656.3 53.5,654.9 69.5,653.3 85.5,652.3 101.5,651.1 117.5,651.1 133.5,652.3 149.5,654.3 165.5,655.9 181.5,655.9 197.5,655.5 213.5,653.7 229.5,649.9 245.5,644.8 261.5,639.8 277.5,634.8 293.5,628.6 309.5,624.1 325.5,620.1 341.5,620.1 357.5,620.1 373.5,623.3 389.5,627.4 405.5,631.4 421.5,635.4 437.5,640.6 453.5,645.4 469.5,650.7 485.5,656.7 501.5,662.7 517.5,667.4 533.5,671.4 549.5,676.0 565.5,680.4 581.5,684.4 597.5,687.4 613.5,690.5 629.5,692.5 645.5,694.1 661.5,695.5 677.5,697.5 693.5,698.1 709.5,700.1 725.5,700.9 741.5,701.5 757.5,701.9 773.5,701.9 789.5,701.9 805.5,701.5 821.5,700.1 837.5,698.1 853.5,696.1 869.5,693.1 885.5,690.5 901.5,687.9 917.5,684.0 933.5,679.4 949.5,672.8 965.5,665.3 981.5,657.3 997.5,649.3 1013.5,641.2 1029.5,633.2 1045.5,625.1 1061.5,620.5 1077.5,617.5 1093.5,615.7 1109.5,616.1 1125.5,619.1 1141.5,624.1 1157.5,630.2 1173.5,636.2 1189.5,643.2 1205.5,648.3 1221.5,652.3 1237.5,655.3 1253.5,657.3 1269.5,658.3 1285.5,658.7" fill="none" stroke="#f00" stroke-width="2"/>
</g>
<g id="rsi" shape-rendering="crispEdges">
<line x1="6" y1="738.5" x2="1642" y2="738.5" stroke="#000" stroke-width="1" stroke-dasharray="3 3"/>
<line x1="6" y1="769.5" x2="1642" y2="769.5" stroke="#000" stroke-width="1" stroke-dasharray="3 3"/>
<line x1="6" y1="807.5" x2="1642" y2="807.5" stroke="#000" stroke-width="1" stroke-dasharray="3 3"/>
<polyline points="5.5,763.2 21.5,760.2 37.5,758.2 53.5,757.8 69.5,772.9 85.5,771.9 101.5,765.8 117.5,772.3 133.5,778.9 149.5,777.9 165.5,767.2 181.5,753.2 197.5,750.2 213.5,749.8 229.5,749.8 245.5,753.2 261.5,760.2 277.5,762.6 293.5,764.2 309.5,762.2 325.5,760.6 341.5,761.8 357.5,774.3 373.5,776.9 389.5,769.9 405.5,771.3 421.5,771.9 437.5,775.7 453.5,773.9 469.5,777.3 485.5,780.9 501.5,780.9 517.5,780.9 533.5,778.3 549.5,778.3 565.5,780.3 581.5,781.9 597.5,779.3 613.5,779.3 629.5,782.7 645.5,779.9 661.5,781.3 677.5,790.0 693.5,783.3 709.5,781.3 725.5,773.9 741.5,773.9 757.5,777.3 773.5,778.9 789.5,777.3 805.5,776.7 821.5,773.3 837.5,772.9 853.5,768.7 869.5,764.2 885.5,762.2 901.5,760.2 917.5,756.2 933.5,752.2 949.5,749.8 965.5,741.1 981.5,741.1 997.5,741.1 1013.5,741.1 1029.5,745.5 1045.5,746.7 1061.5,773.9 1077.5,773.9 1093.5,772.9 1109.5,772.9 1125.5,772.9 1141.5,772.9 1157.5,776.9 1173.5,772.9 1189.5,773.9 1205.5,768.7 1221.5,764.2 1237.5,761.8 1253.5,767.8 1269.5,765.6 1285.5,766.8" fill="none" stroke="#1e90ff" stroke-width="2"/>
</g>
<g id="frame" shape-rendering="crispEdges" fill="#000">
<rect x="4" y="26" width="1641" height="1"/>
<rect x="4" y="26" width="1" height="567"/>
<rect x="4" y="592" width="1641" height="1"/>
<rect x="4" y="594" width="1641" height="1"/>
<rect x="4" y="594" width="1" height="120"/>
<rect x="4" y="713" width="1641" height="1"/>
<rect x="4" y="715" width="1641" height="1"/>
<rect x="4" y="715" width="1" height="109"/>
<rect x="4" y="823" width="1641" height="1"/>
<rect x="1644" y="26" width="1" height="567"/>
<rect x="1644" y="594" width="1" height="120"/>
<rect x="1644" y="715" width="1" height="109"/>
<rect x="1645" y="596" width="1" height="1"/>
<rect x="1645" y="712" width="1" height="1"/>
<rect x="1645" y="717" width="1" height="1"/>
<rect x="1645" y="822" width="1" height="1"/>
<rect x="1645" y="53" width="2" height="1"/>
<rect x="1645" y="86" width="2" height="1"/>
<rect x="1645" y="120" width="2" height="1"/>
<rect x="1645" y="154" width="2" height="1"/>
<rect x="1645" y="187" width="2" height="1"/>
<rect x="1645" y="221" width="2" height="1"/>
<rect x="1645" y="255" width="2" height="1"/>
<rect x="1645" y="288" width="2" height="1"/>
<rect x="1645" y="322" width="2" height="1"/>
<rect x="1645" y="356" width="2" height="1"/>
<rect x="1645" y="389" width="2" height="1"/>
<rect x="1645" y="423" width="2" height="1"/>
<rect x="1645" y="457" width="2" height="1"/>
<rect x="1645" y="490" width="2" height="1"/>
<rect x="1645" y="523" width="2" height="1"/>
<rect x="1645" y="556" width="2" height="1"/>
<rect x="1645" y="589" width="2" height="1"/>
<rect x="1645" y="665" width="1" height="1"/>
<rect x="5" y="824" width="1" height="3"/>
<rect x="69" y="824" width="1" height="3"/>
<rect x="133" y="824" width="1" height="3"/>
<rect x="197" y="824" width="1" height="3"/>
<rect x="261" y="824" width="1" height="3"/>
<rect x="325" y="824" width="1" height="3"/>
<rect x="389" y="824" width="1" height="3"/>
<rect x="453" y="824" width="1" height="3"/>
<rect x="517" y="824" width="1" height="3"/>
<rect x="581" y="824" width="1" height="3"/>
<rect x="645" y="824" width="1" height="3"/>
<rect x="709" y="824" width="1" height="3"/>
<rect x="773" y="824" width="1" height="3"/>
<rect x="837" y="824" width="1" height="3"/>
<rect x="901" y="824" width="1" height="3"/>
<rect x="965" y="824" width="1" height="3"/>
<rect x="1029" y="824" width="1" height="3"/>
<rect x="1093" y="824" width="1" height="3"/>
<rect x="1157" y="824" width="1" height="3"/>
<rect x="1221" y="824" width="1" height="3"/>
<rect x="1285" y="824" width="1" height="3"/>
<rect x="1310" y="27" width="9" height="1"/>
<rect x="1311" y="28" width="7" height="1"/>
<rect x="1312" y="29" width="5" height="1"/>
<rect x="1313" y="30" width="3" height="1"/>
<rect x="1314" y="31" width="1" height="1"/>
<rect x="8" y="33" width="7" height="1"/>
<rect x="9" y="34" width="5" height="1"/>
<rect x="10" y="35" width="3" height="1"/>
<rect x="11" y="36" width="1" height="1"/>
</g>
<g id="handles" shape-rendering="crispEdges"><rect x="4" y="231" width="6" height="6" fill="#f00"/><rect x="6" y="233" width="2" height="2" fill="#fff"/><rect x="1638" y="231" width="6" height="6" fill="#f00"/><rect x="1640" y="233" width="2" height="2" fill="#fff"/><rect x="4" y="296" width="6" height="6" fill="#ff8c00"/><rect x="6" y="298" width="2" height="2" fill="#fff"/><rect x="1638" y="296" width="6" height="6" fill="#ff8c00"/><rect x="1640" y="298" width="2" height="2" fill="#fff"/><rect x="4" y="325" width="6" height="6" fill="#00f"/><rect x="6" y="327" width="2" height="2" fill="#fff"/><rect x="1638" y="325" width="6" height="6" fill="#00f"/><rect x="1640" y="327" width="2" height="2" fill="#fff"/><rect x="4" y="353" width="6" height="6" fill="#00f"/><rect x="6" y="355" width="2" height="2" fill="#fff"/><rect x="1638" y="353" width="6" height="6" fill="#00f"/><rect x="1640" y="355" width="2" height="2" fill="#fff"/></g>
<g id="labels">
<text x="1650.2" y="57.0" textLength="33" lengthAdjust="spacingAndGlyphs">0.68080</text>
<text x="1650.2" y="90.0" textLength="33" lengthAdjust="spacingAndGlyphs">0.67960</text>
<text x="1650.2" y="124.0" textLength="33" lengthAdjust="spacingAndGlyphs">0.67840</text>
<text x="1650.2" y="158.0" textLength="33" lengthAdjust="spacingAndGlyphs">0.67720</text>
<text x="1650.2" y="191.0" textLength="33" lengthAdjust="spacingAndGlyphs">0.67600</text>
<text x="1650.2" y="225.0" textLength="33" lengthAdjust="spacingAndGlyphs">0.67480</text>
<text x="1650.2" y="259.0" textLength="33" lengthAdjust="spacingAndGlyphs">0.67360</text>
<text x="1650.2" y="292.0" textLength="33" lengthAdjust="spacingAndGlyphs">0.67240</text>
<text x="1650.2" y="326.0" textLength="33" lengthAdjust="spacingAndGlyphs">0.67120</text>
<text x="1650.2" y="360.0" textLength="33" lengthAdjust="spacingAndGlyphs">0.67000</text>
<text x="1650.2" y="393.0" textLength="33" lengthAdjust="spacingAndGlyphs">0.66880</text>
<text x="1650.2" y="427.0" textLength="33" lengthAdjust="spacingAndGlyphs">0.66760</text>
<text x="1650.2" y="461.0" textLength="33" lengthAdjust="spacingAndGlyphs">0.66640</text>
<text x="1650.2" y="494.0" textLength="33" lengthAdjust="spacingAndGlyphs">0.66520</text>
<text x="1650.2" y="527.0" textLength="33" lengthAdjust="spacingAndGlyphs">0.66405</text>
<text x="1650.2" y="560.0" textLength="33" lengthAdjust="spacingAndGlyphs">0.66285</text>
<text x="1650.2" y="593.0" textLength="33" lengthAdjust="spacingAndGlyphs">0.66170</text>
</g>
<g id="pricetags" shape-rendering="crispEdges">
<rect x="1646" y="228" width="41" height="11" fill="#f00"/>
<text x="1650" y="237.0" textLength="33" lengthAdjust="spacingAndGlyphs" style="fill:#fff;stroke:#fff;stroke-width:0.2px">0.67434</text>
<rect x="1646" y="255" width="41" height="11" fill="#f00"/>
<text x="1650" y="264.0" textLength="33" lengthAdjust="spacingAndGlyphs" style="fill:#fff;stroke:#fff;stroke-width:0.2px">0.67336</text>
<rect x="1646" y="277" width="41" height="11" fill="#000"/>
<text x="1650" y="286.0" textLength="33" lengthAdjust="spacingAndGlyphs" style="fill:#fff;stroke:#fff;stroke-width:0.2px">0.67263</text>
<rect x="1646" y="293" width="41" height="11" fill="#ff8c00"/>
<text x="1650" y="302.0" textLength="33" lengthAdjust="spacingAndGlyphs" style="fill:#fff;stroke:#fff;stroke-width:0.2px">0.67202</text>
<rect x="1646" y="322" width="41" height="11" fill="#00f"/>
<text x="1650" y="331.0" textLength="33" lengthAdjust="spacingAndGlyphs" style="fill:#fff;stroke:#fff;stroke-width:0.2px">0.67099</text>
<rect x="1646" y="350" width="41" height="11" fill="#00f"/>
<text x="1650" y="359.0" textLength="33" lengthAdjust="spacingAndGlyphs" style="fill:#fff;stroke:#fff;stroke-width:0.2px">0.67000</text>
</g>
<g id="labels2">
<text x="20.8" y="37.9" textLength="58.1" lengthAdjust="spacingAndGlyphs">AUDUSD-,H4</text>
<text x="85.2" y="37.9" textLength="32.6" lengthAdjust="spacingAndGlyphs">0.67307</text>
<text x="121.2" y="37.9" textLength="32.6" lengthAdjust="spacingAndGlyphs">0.67315</text>
<text x="157.2" y="37.9" textLength="32.6" lengthAdjust="spacingAndGlyphs">0.67263</text>
<text x="193.2" y="37.9" textLength="32.6" lengthAdjust="spacingAndGlyphs">0.67263</text>
<text x="9.6" y="606.5" textLength="147" lengthAdjust="spacingAndGlyphs">MACD(12,26,9) 0.000414 0.000297</text>
<text x="9.6" y="728" textLength="67.2" lengthAdjust="spacingAndGlyphs">RSI(14) 52.6646</text>
<text x="1648" y="605" textLength="33" lengthAdjust="spacingAndGlyphs">0.00304</text>
<text x="1648" y="669" textLength="18" lengthAdjust="spacingAndGlyphs">0.00</text>
<text x="1648" y="710.3" textLength="36" lengthAdjust="spacingAndGlyphs">-0.00205</text>
<text x="1648" y="726" textLength="15" lengthAdjust="spacingAndGlyphs">100</text>
<text x="1647" y="742" textLength="10" lengthAdjust="spacingAndGlyphs">80</text>
<text x="1647" y="773" textLength="10" lengthAdjust="spacingAndGlyphs">50</text>
<text x="1647" y="811" textLength="10" lengthAdjust="spacingAndGlyphs">15</text>
<text x="1647" y="820" textLength="5" lengthAdjust="spacingAndGlyphs">0</text>
<text x="4.2" y="836" textLength="51.8" lengthAdjust="spacingAndGlyphs">30 Mar 2023</text>
<text x="68.2" y="836" textLength="55.1" lengthAdjust="spacingAndGlyphs">31 Mar 04:00</text>
<text x="132.2" y="836" textLength="48.6" lengthAdjust="spacingAndGlyphs">2 Apr 23:00</text>
<text x="196.2" y="836" textLength="48.6" lengthAdjust="spacingAndGlyphs">3 Apr 12:00</text>
<text x="260.2" y="836" textLength="48.6" lengthAdjust="spacingAndGlyphs">4 Apr 04:00</text>
<text x="324.2" y="836" textLength="48.6" lengthAdjust="spacingAndGlyphs">4 Apr 20:00</text>
<text x="388.2" y="836" textLength="48.6" lengthAdjust="spacingAndGlyphs">5 Apr 12:00</text>
<text x="452.2" y="836" textLength="48.6" lengthAdjust="spacingAndGlyphs">6 Apr 04:00</text>
<text x="516.2" y="836" textLength="48.6" lengthAdjust="spacingAndGlyphs">6 Apr 20:00</text>
<text x="580.2" y="836" textLength="48.6" lengthAdjust="spacingAndGlyphs">7 Apr 12:00</text>
<text x="644.2" y="836" textLength="53.6" lengthAdjust="spacingAndGlyphs">10 Apr 04:00</text>
<text x="708.2" y="836" textLength="53.6" lengthAdjust="spacingAndGlyphs">10 Apr 20:00</text>
<text x="772.2" y="836" textLength="53.6" lengthAdjust="spacingAndGlyphs">11 Apr 12:00</text>
<text x="836.2" y="836" textLength="53.6" lengthAdjust="spacingAndGlyphs">12 Apr 04:00</text>
<text x="900.2" y="836" textLength="53.6" lengthAdjust="spacingAndGlyphs">12 Apr 20:00</text>
<text x="964.2" y="836" textLength="53.6" lengthAdjust="spacingAndGlyphs">13 Apr 12:00</text>
<text x="1028.2" y="836" textLength="53.6" lengthAdjust="spacingAndGlyphs">14 Apr 04:00</text>
<text x="1092.2" y="836" textLength="53.6" lengthAdjust="spacingAndGlyphs">16 Apr 23:00</text>
<text x="1156.2" y="836" textLength="53.6" lengthAdjust="spacingAndGlyphs">17 Apr 12:00</text>
<text x="1220.2" y="836" textLength="53.6" lengthAdjust="spacingAndGlyphs">18 Apr 04:00</text>
<text x="1284.2" y="836" textLength="53.6" lengthAdjust="spacingAndGlyphs">18 Apr 20:00</text>
</g>
</svg></body></html>
